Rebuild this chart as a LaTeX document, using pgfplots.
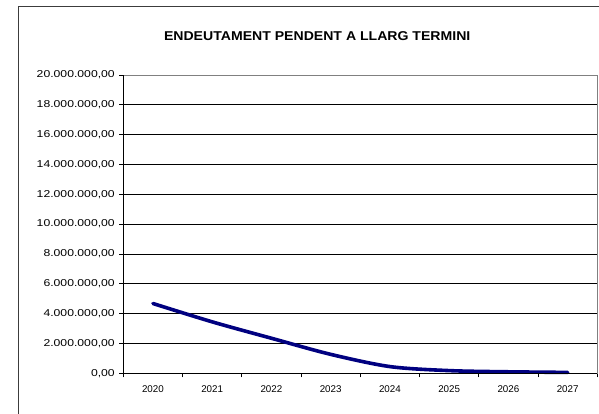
\documentclass[border=0pt]{standalone}
\usepackage{fontspec}
\setmainfont{Liberation Sans}
\newfontfamily\ylabfont[FakeStretch=1.22]{Liberation Sans}
\newfontfamily\titlefont[FakeStretch=1.1]{Liberation Sans}
\usepackage{pgfplots}
\pgfplotsset{compat=1.18}
\definecolor{navyline}{RGB}{0,0,128}
\definecolor{framegray}{RGB}{60,60,60}
\definecolor{boxgray}{RGB}{128,128,128}
\begin{document}
\begin{tikzpicture}[x=1pt,y=1pt]
\useasboundingbox (0,0) rectangle (599,414);
\fill[white] (0,0) rectangle (599,414);
\draw[framegray, line width=1.3pt] (18.3,-10) -- (18.3,407.3) -- (620,407.3);
\node[font=\titlefont\fontsize{12.8}{14}\selectfont\bfseries, anchor=center] at (317.2,378) {ENDEUTAMENT PENDENT A LLARG TERMINI};
\begin{axis}[
  at={(123.3pt,40.7pt)}, anchor=south west,
  scale only axis, width=474pt, height=298.3pt,
  xmin=-0.5, xmax=7.5, ymin=0, ymax=20000000,
  axis line style={boxgray, line width=0.8pt},
  xtick pos=lower, ytick pos=left,
  xtick={0,1,2,3,4,5,6,7},
  xticklabels={2020,2021,2022,2023,2024,2025,2026,2027},
  minor xtick={-0.5,0.5,1.5,2.5,3.5,4.5,5.5,6.5,7.5},
  major x tick style={draw=none},
  minor x tick style={black, line width=0.8pt},
  minor tick length=4pt,
  tick align=outside,
  ytick={0,2000000,4000000,6000000,8000000,10000000,12000000,14000000,16000000,18000000,20000000},
  yticklabels={{0,00},{2.000.000,00},{4.000.000,00},{6.000.000,00},{8.000.000,00},{10.000.000,00},{12.000.000,00},{14.000.000,00},{16.000.000,00},{18.000.000,00},{20.000.000,00}},
  major tick length=4pt,
  y tick style={black, line width=0.8pt},
  scaled y ticks=false,
  ymajorgrids,
  grid style={black, line width=0.8pt},
  yticklabel style={font=\ylabfont\fontsize{10}{12}\selectfont, anchor=east, xshift=-1pt},
  xticklabel style={font=\fontsize{9.8}{11}\selectfont, anchor=north, yshift=-5pt},
  tick label style={/pgf/number format/assume math mode=true},
  clip=false,
]
\addplot[navyline, line width=3.6pt, smooth, tension=0.5, line cap=round] coordinates {
  (0,4680000) (1,3450000) (2,2350000) (3,1270000) (4,450000) (5,180000) (6,100000) (7,60000)
};
\draw[black, line width=0.8pt] (axis cs:-0.5,0) -- (axis cs:7.5,0);
\draw[black, line width=0.8pt] (axis cs:-0.5,0) -- (axis cs:-0.5,20000000);
\end{axis}
\end{tikzpicture}
\end{document}
